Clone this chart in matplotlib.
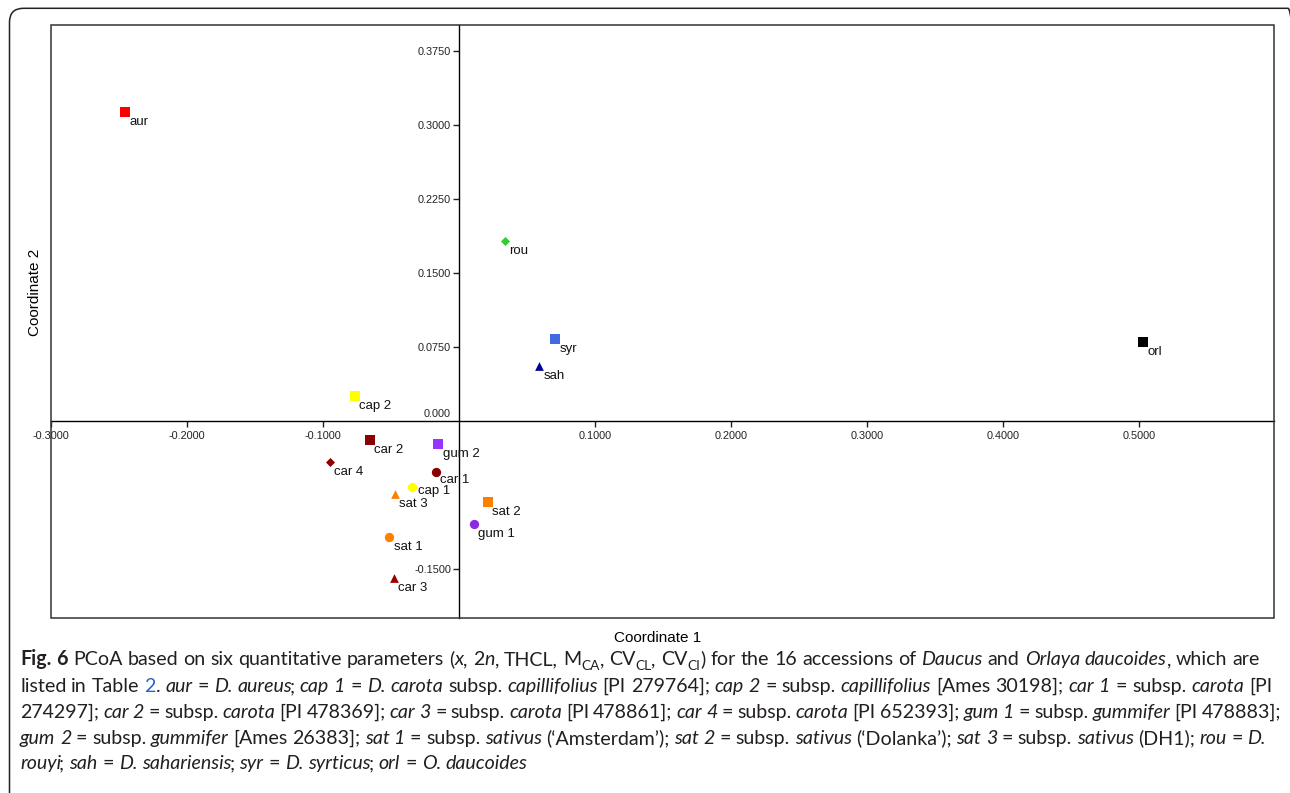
import re
import matplotlib
matplotlib.use("Agg")
import matplotlib.pyplot as plt
from matplotlib.patches import FancyBboxPatch, Rectangle
from matplotlib.transforms import IdentityTransform

plt.rcParams["font.family"] = ["Liberation Sans", "DejaVu Sans"]

# PCoA scores
labels = ["aur", "rou", "syr", "sah", "orl", "cap 2", "car 2", "gum 2",
          "car 4", "car 1", "cap 1", "sat 3", "sat 2", "gum 1", "sat 1", "car 3"]
coord1 = [-0.2458, 0.0336, 0.0706, 0.0586, 0.5025, -0.0765, -0.0657, -0.0154,
          -0.0951, -0.0171, -0.0348, -0.0475, 0.0209, 0.0106, -0.0515, -0.0482]
coord2 = [0.3129, 0.1821, 0.0825, 0.0557, 0.0801, 0.0250, -0.0199, -0.0233,
          -0.0416, -0.0523, -0.0669, -0.0746, -0.0827, -0.1044, -0.1182, -0.1597]
markers = ["s", "D", "s", "^", "s", "s", "s", "s",
           "D", "o", "o", "^", "s", "o", "o", "^"]
colors = ["#ff0000", "#33cc33", "#4169e1", "#000099", "#000000", "#ffff00", "#8b0000", "#9933ff",
          "#8b0000", "#8b0000", "#ffff00", "#ff8000", "#ff8000", "#8a2be2", "#ff8000", "#990000"]

xticks = [-0.3, -0.2, -0.1, 0.1, 0.2, 0.3, 0.4, 0.5]
yticks = [0.375, 0.3, 0.225, 0.15, 0.075, -0.15]

caption_lines = [
    "**Fig. 6** PCoA based on six quantitative parameters (*x*, 2*n*, THCL, M_{CA}, CV_{CL}, CV_{CI}) for the 16 accessions of *Daucus* and *Orlaya daucoides*, which are",
    "listed in Table @2@. *aur* = *D. aureus*; *cap 1* = *D. carota* subsp. *capillifolius* [PI 279764]; *cap 2* = subsp. *capillifolius* [Ames 30198]; *car 1* = subsp. *carota* [PI",
    "274297]; *car 2* = subsp. *carota* [PI 478369]; *car 3* = subsp. *carota* [PI 478861]; *car 4* = subsp. *carota* [PI 652393]; *gum 1* = subsp. *gummifer* [PI 478883];",
    "*gum 2* = subsp. *gummifer* [Ames 26383]; *sat 1* = subsp. *sativus* (\u2018Amsterdam\u2019); *sat 2* = subsp. *sativus* (\u2018Dolanka\u2019); *sat 3* = subsp. *sativus* (DH1); *rou* = *D.*",
    "*rouyi*; *sah* = *D. sahariensis*; *syr* = *D. syrticus*; *orl* = *O. daucoides*",
]
line_right = [1260, 1272, 1281, 1266, None]
line_base = [665, 692, 718, 744, 769]

W, H = 1290, 793
fig = plt.figure(figsize=(W / 100, H / 100), dpi=100)

# outer frame (rounded, cut by image edge)
frame = FancyBboxPatch((9.5, -40), 1302 - 9.5, H - 8.3 + 40, boxstyle="round,pad=0,rounding_size=14",
                       transform=IdentityTransform(), fill=False, lw=1.1, ec="#222222")
fig.add_artist(frame)

ax = fig.add_axes([51 / W, 175 / H, 1223 / W, 593 / H])
ax.set_xlim(-0.3, 0.599)
ax.set_ylim(-0.2, 0.401)

for s in ["top", "right"]:
    ax.spines[s].set_visible(False)
for s in ["left", "bottom"]:
    ax.spines[s].set_position(("data", 0))
    ax.spines[s].set_linewidth(1.0)
    ax.spines[s].set_color("black")
ax.add_patch(Rectangle((0, 0), 1, 1, transform=ax.transAxes, fill=False,
                       lw=1.1, ec="#333333", clip_on=False, zorder=5))

ax.set_xticks(xticks)
ax.set_xticklabels([f"{v:.4f}" for v in xticks])
ax.set_yticks(yticks)
ax.set_yticklabels([f"{v:.4f}" for v in yticks])
ax.tick_params(direction="out", length=4.3, width=1, colors="#222222", labelsize=7.8)
ax.tick_params(axis="x", pad=2.8)
ax.tick_params(axis="y", pad=1.5)
ax.annotate("0.000", xy=(0, 0), xytext=(-6, 2.3), textcoords="offset points",
            ha="right", va="baseline", fontsize=7.8, color="#222222")

sizes = {"s": 7.2, "o": 6.7, "^": 6.3, "D": 4.6}
# a couple of labels sit a little off the usual lower-right spot
nudge = {"cap 1": (1.0, 4.0), "car 1": (0, 1.5)}
for x, y, lab, m, c in zip(coord1, coord2, labels, markers, colors):
    ax.scatter(x, y, marker=m, s=sizes[m] ** 2, c=c, linewidths=0, zorder=3)
    dx, dy = nudge.get(lab, (0, 0))
    ax.annotate(lab, (x, y), xytext=(3.2 + dx, -9.4 + dy), textcoords="offset points",
                fontsize=9.5, ha="left", va="baseline", color="#111111")

ax.text(0.496, -20 / 593, "Coordinate 1", transform=ax.transAxes,
        ha="center", va="center", fontsize=11)
ax.text(-16 / 1223, 0.549, "Coordinate 2", transform=ax.transAxes,
        ha="center", va="center", rotation=90, fontsize=11)

# caption with mixed styles
cap_family = ["Lato", "DejaVu Sans"]
token_re = re.compile(r"\*\*(.+?)\*\*|\*(.+?)\*|_\{(.+?)\}|@(.+?)@|([^*_@]+)")


def parse(line):
    runs = []
    for m in token_re.finditer(line):
        b, i, sub, link, n = m.groups()
        if b: runs.append((b, "b"))
        elif i: runs.append((i, "i"))
        elif sub: runs.append((sub, "sub"))
        elif link: runs.append((link, "link"))
        else: runs.append((n, "n"))
    words = [[]]
    for text, style in runs:
        parts = text.split(" ")
        for k, p in enumerate(parts):
            if k > 0:
                words.append([])
            if p:
                words[-1].append((p, style))
    return [w for w in words if w]


renderer = fig.canvas.get_renderer()


def make(text, style, size):
    kw = dict(fontsize=size, family=cap_family, color="#231f20",
              transform=IdentityTransform(), va="baseline", ha="left")
    if style == "b":
        kw["fontweight"] = "bold"
    if style == "i":
        kw["fontstyle"] = "italic"
    if style == "sub":
        kw["fontsize"] = size * 0.7
    if style == "link":
        kw["color"] = "#2a62c9"
    return fig.text(0, 0, text, **kw)


def width(t):
    return t.get_window_extent(renderer).width


def advance(text, style, size):
    # advance width: measure text followed by a reference glyph
    a = make(text + "H", style, size)
    b = make("H", style, size)
    w = width(a) - width(b)
    a.remove(); b.remove()
    return w


def word_widths(w, size):
    ws = []
    for k, (tx, st) in enumerate(w):
        wi = advance(tx, st, size)
        # pull a roman semicolon in against the preceding italic
        if st == "i" and k + 1 < len(w) and w[k + 1][0].startswith(";"):
            wi -= 0.12 * size * 100 / 72
        ws.append(wi)
    return ws


parsed = [parse(l) for l in caption_lines]

# fit font size so the last (unjustified) line spans like the original
base = 10
sp = advance(" ", "n", base)
nat = sum(sum(word_widths(w, base)) for w in parsed[-1]) + sp * (len(parsed[-1]) - 1)
cap_size = base * (528 - 20) / nat
space = advance(" ", "n", cap_size)

for words, right, yb in zip(parsed, line_right, line_base):
    wws = [word_widths(w, cap_size) for w in words]
    total = sum(sum(w) for w in wws)
    gap = space if right is None else (right - 20 - total) / (len(words) - 1)
    x = 20
    ybase = H - yb
    for w, ww in zip(words, wws):
        for (tx, st), wi in zip(w, ww):
            dy = -0.25 * cap_size * 100 / 72 if st == "sub" else 0
            t = make(tx, st, cap_size)
            t.set_position((x, ybase + dy))
            x += wi
        x += gap

fig.savefig("out.png", dpi=100)
